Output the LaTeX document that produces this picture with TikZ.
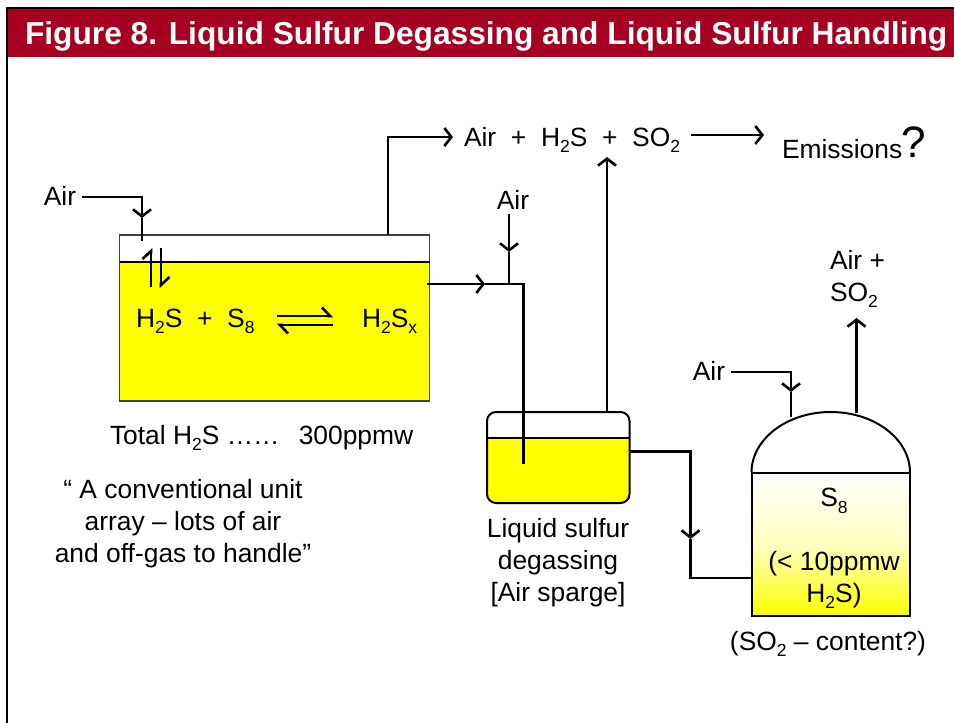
\documentclass[tikz,border=0pt]{standalone}
\usepackage{fontspec}
\setmainfont{Liberation Sans}
\usepackage{tikz}
\usetikzlibrary{arrows.meta}
\definecolor{band-red}{RGB}{165, 0, 33}
\definecolor{sulfur-yellow}{RGB}{255, 255, 0}
\newcommand{\lowidx}[1]{\raisebox{-0.24em}{\fontsize{17.5}{17.5}\selectfont #1}}

\begin{document}
\begin{tikzpicture}[x=1pt, y=-1pt,
		every node/.style={inner sep=0pt, outer sep=0pt},
		label/.style={font=\fontsize{26.4}{32}\selectfont, align=center, text=black},
		pipe/.style={line width=2.8pt, black, line join=miter},
		flow/.style={pipe, -{Straight Barb[length=7pt, width=18pt, line width=2.6pt]}},
		harpoon/.style={pipe, -{Straight Barb[left, length=8pt, width=17pt, line width=2.6pt]}}]
		\useasboundingbox (0,0) rectangle (954,723);
		
		% Draw the title band and the frame
		\fill[band-red] (8,9) rectangle (954,57);
		\draw[line width=2pt] (7,723) -- (7,8) -- (954,8);
		\node (title) [anchor=base west, text=white, font=\bfseries\fontsize{31.7}{36}\selectfont] at (25,44) {Figure 8. Liquid Sulfur Degassing and Liquid Sulfur Handling};
		
		% Draw the first tank
		\node (tank) [anchor=north west, minimum width=310pt, minimum height=166pt] at (119.5,235) {};
		\fill[sulfur-yellow] (119.5,262) rectangle (tank.south east);
		\draw[black!75, line width=1.5pt] (tank.north west) rectangle (tank.south east);
		\draw[black, line width=1.3pt] (119.5,262) -- (429.5,262);
		
		% Draw the degassing tank
		\node (degas) [anchor=north west, minimum width=142.5pt, minimum height=91pt] at (487,412) {};
		\begin{scope}
			\clip[rounded corners=9pt] (degas.north west) rectangle (degas.south east);
			\fill[sulfur-yellow] (487,438) rectangle (degas.south east);
		\end{scope}
		\draw[line width=2pt, rounded corners=9pt] (degas.north west) rectangle (degas.south east);
		\draw[line width=2pt] (487,438) -- (629.5,438);
		
		% Draw the storage vessel
		\node (store) [draw, line width=2pt, anchor=north west, minimum width=158.5pt, minimum height=143.5pt, top color=white, bottom color=sulfur-yellow, middle color=sulfur-yellow!25] at (751.5,472.5) {};
		\draw[line width=2pt] (store.north west) arc[start angle=180, end angle=0, x radius=79.25pt, y radius=60.5pt];
		
		% Name the points on the pipes
		\coordinate (airin) at (142,241);
		\coordinate (airtip) at (142,218);
		\coordinate (offgas) at (tank.north -| 388,0);
		\coordinate (offtip) at (453,137);
		\coordinate (leave) at (427,284);
		\coordinate (leavetip) at (485,284);
		\coordinate (join) at (509,284);
		\coordinate (bend) at (523.5,284);
		\coordinate (dip) at (523.5,464);
		\coordinate (jointip) at (509,252);
		\coordinate (degasvent) at (degas.north -| 607,0);
		\coordinate (degastip) at (607,157);
		\coordinate (degasout) at (degas.east |- 0,451.5);
		\coordinate (downtip) at (690.5,539);
		\coordinate (turn) at (690.5,578);
		\coordinate (storein) at (store.west |- 0,578);
		\coordinate (storeair) at (791,417);
		\coordinate (storetip) at (791,392);
		\coordinate (storevent) at (856.5,413);
		\coordinate (venttip) at (856.5,318);
		\coordinate (emitstart) at (691,135);
		\coordinate (emittip) at (764,135);
		
		% Draw the labels
		\node (air1) [label] at (60,196) {Air};
		\node (air2) [label] at (513,200) {Air};
		\node (air3) [label] at (709,371) {Air};
		\node (gases) [label, anchor=base west] at (464,146) {Air\ \ +\ \ H\lowidx{2}S\ \ +\ \ SO\lowidx{2}};
		\node (emissions) [label, anchor=base west] at (782,158) {Emissions};
		\node (question) [label, anchor=base west, font=\fontsize{44}{44}\selectfont] at (901,157) {?};
		\node (react) [label, anchor=base west] at (136,327) {H\lowidx{2}S\ \ +\ \ S\lowidx{8}};
		\node (polysulfide) [label, anchor=base west] at (362,327) {H\lowidx{2}S\lowidx{x}};
		\node (total) [label, anchor=base west] at (110,444) {Total H\lowidx{2}S ……\hspace{4.5pt}\ \ 300ppmw};
		\node (quote) [label] at (183,524) {“ A conventional unit\\array – lots of air\\and off-gas to handle”};
		\node (degaslabel) [label] at (558,563) {Liquid sulfur\\degassing\\{[Air sparge]}};
		\node (vent3) [label, align=left, anchor=base west] at (830,301) {Air +\\SO\lowidx{2}};
		\node (s8) [label] at (834,501) {S\lowidx{8}};
		\node (limit) [label] at (834,580) {(< 10ppmw\\H\lowidx{2}S)};
		\node (content) [label] at (828,644) {(SO\lowidx{2} – content?)};
		
		% Connect the first tank
		\draw[flow] (air1.east) ++(6,1) -| (airtip);
		\draw[pipe] (airtip) -- (airin);
		\draw[flow] (offgas) |- (offtip);
		\draw[harpoon] (151,287) -- (151,248);
		\draw[harpoon] (161,248) -- (161,288);
		\draw[harpoon] (277,316) -- (333,316);
		\draw[harpoon] (333,325) -- (277,325);
		
		% Connect the degassing tank
		\draw[flow] (leave) -- (leavetip);
		\draw[pipe] (leavetip) -- (bend) -- (dip);
		\draw[flow] (air2.south -| join) ++(0,4) -- (jointip);
		\draw[pipe] (jointip) -- (join);
		\draw[flow] (degasvent) -- (degastip);
		\draw[flow] (degasout) -| (downtip);
		\draw[pipe] (downtip) -- (turn) -- (storein);
		
		% Connect the storage vessel
		\draw[flow] (air3.east) ++(6,1) -| (storetip);
		\draw[pipe] (storetip) -- (storeair);
		\draw[flow] (storevent) -- (venttip);
		\draw[flow] (emitstart) -- (emittip);
		\end{tikzpicture}
\end{document}
